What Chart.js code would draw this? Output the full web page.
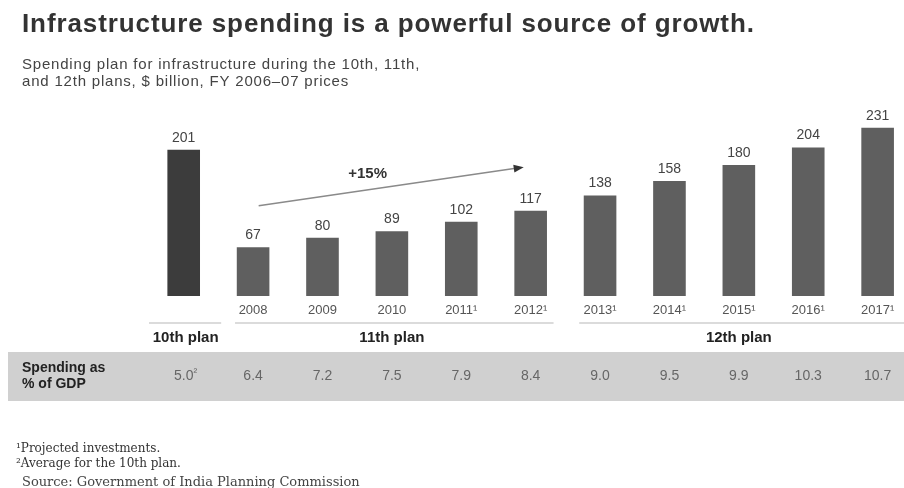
<!DOCTYPE html>
<html>
<head>
<meta charset="utf-8">
<script src="https://cdn.jsdelivr.net/npm/chart.js@4/dist/chart.umd.min.js"></script>
<style>
html,body{margin:0;padding:0;background:#fff;}
canvas{display:block;}
</style>
</head>
<body>
<canvas id="c" width="904" height="488"></canvas>
<script>
// ---- data ----
const yearLabels = ['', '2008', '2009', '2010', '2011¹', '2012¹', '2013¹', '2014¹', '2015¹', '2016¹', '2017¹'];
const spending = [201, 67, 80, 89, 102, 117, 138, 158, 180, 204, 231];
const gdpShare = [5.0, 6.4, 7.2, 7.5, 7.9, 8.4, 9.0, 9.5, 9.9, 10.3, 10.7];
const gdpNotes = ['²', '', '', '', '', '', '', '', '', '', ''];
const planNames = ['10th plan', '11th plan', '12th plan'];
const planFirst = [0, 1, 6];
const planLast = [0, 5, 10];
const growthLabel = '+15%';
const growthFrom = [1.08, 124];
const growthTo = [4.9, 177];

const titleText = 'Infrastructure spending is a powerful source of growth.';
const subtitleLines = ['Spending plan for infrastructure during the 10th, 11th,', 'and 12th plans, $ billion, FY 2006–07 prices'];
const rowLabel = ['Spending as', '% of GDP'];
const footnotes = ['¹Projected investments.', '²Average for the 10th plan.'];
const sourceText = 'Source: Government of India Planning Commission';

const SANS = '"Liberation Sans", Arial, Helvetica, sans-serif';
const SERIF = '"DejaVu Serif", "Liberation Serif", serif';

const points = spending.map((v, i) => ({x: i, y: v}));

const decor = {
  id: 'decor',
  afterDatasetsDraw(chart) {
    const ctx = chart.ctx;
    const xs = chart.scales.x, ys = chart.scales.y;
    const meta = chart.getDatasetMeta(0);
    ctx.save();
    // value labels
    ctx.font = '14px ' + SANS;
    ctx.fillStyle = '#444';
    ctx.textAlign = 'center';
    ctx.textBaseline = 'middle';
    meta.data.forEach((bar, i) => {
      ctx.fillText(String(spending[i]), bar.x, bar.y - 12);
    });
    // year labels
    ctx.font = '13px ' + SANS;
    ctx.fillStyle = '#555';
    const base = ys.getPixelForValue(0);
    yearLabels.forEach((t, i) => {
      if (t) ctx.fillText(t, xs.getPixelForValue(i), base + 14);
    });
    // plan underlines & labels
    const padL = [0.5, 0.26, 0.3];
    const padR = [0.54, 0.33, 0.4];
    ctx.strokeStyle = '#cfcfcf';
    ctx.lineWidth = 1.5;
    planNames.forEach((n, k) => {
      const x1 = xs.getPixelForValue(planFirst[k] - padL[k]);
      const x2 = xs.getPixelForValue(planLast[k] + padR[k]);
      ctx.beginPath();
      ctx.moveTo(x1, base + 27);
      ctx.lineTo(x2, base + 27);
      ctx.stroke();
    });
    ctx.font = 'bold 15px ' + SANS;
    ctx.fillStyle = '#222';
    planNames.forEach((n, k) => {
      const cx = (xs.getPixelForValue(planFirst[k]) + xs.getPixelForValue(planLast[k])) / 2 + (k === 0 ? 2 : 0);
      ctx.fillText(n, cx, base + 42);
    });
    // band
    const bandTop = base + 56, bandH = 49;
    ctx.fillStyle = '#d0d0d0';
    ctx.fillRect(8, bandTop, 896, bandH);
    ctx.textAlign = 'left';
    ctx.font = 'bold 14px ' + SANS;
    ctx.fillStyle = '#222';
    ctx.fillText(rowLabel[0], 22, bandTop + 16);
    ctx.fillText(rowLabel[1], 22, bandTop + 32);
    ctx.font = '14px ' + SANS;
    ctx.fillStyle = '#666';
    gdpShare.forEach((v, i) => {
      const cx = xs.getPixelForValue(i);
      const s = v.toFixed(1);
      ctx.textAlign = 'center';
      ctx.fillText(s, cx, bandTop + 24);
      if (gdpNotes[i]) {
        const w = ctx.measureText(s).width;
        ctx.textAlign = 'left';
        ctx.font = '11px ' + SANS;
        ctx.fillText(gdpNotes[i], cx + w / 2, bandTop + 21);
        ctx.font = '14px ' + SANS;
      }
    });
    // growth arrow
    const ax1 = xs.getPixelForValue(growthFrom[0]), ay1 = ys.getPixelForValue(growthFrom[1]);
    const ax2 = xs.getPixelForValue(growthTo[0]), ay2 = ys.getPixelForValue(growthTo[1]);
    const ang = Math.atan2(ay2 - ay1, ax2 - ax1);
    ctx.strokeStyle = '#8a8a8a';
    ctx.lineWidth = 1.5;
    ctx.beginPath();
    ctx.moveTo(ax1, ay1);
    ctx.lineTo(ax2 - 8 * Math.cos(ang), ay2 - 8 * Math.sin(ang));
    ctx.stroke();
    ctx.fillStyle = '#333';
    ctx.beginPath();
    ctx.moveTo(ax2, ay2);
    ctx.lineTo(ax2 - 10 * Math.cos(ang) + 4 * Math.sin(ang), ay2 - 10 * Math.sin(ang) - 4 * Math.cos(ang));
    ctx.lineTo(ax2 - 10 * Math.cos(ang) - 4 * Math.sin(ang), ay2 - 10 * Math.sin(ang) + 4 * Math.cos(ang));
    ctx.closePath();
    ctx.fill();
    ctx.font = 'bold 15px ' + SANS;
    ctx.textAlign = 'center';
    ctx.fillStyle = '#333';
    const gx = xs.getPixelForValue(2.65), gy = ys.getPixelForValue(168);
    ctx.fillText(growthLabel, gx, gy);
    // title & subtitle
    ctx.textAlign = 'left';
    ctx.textBaseline = 'alphabetic';
    ctx.font = 'bold 26px ' + SANS;
    ctx.fillStyle = '#333';
    ctx.letterSpacing = '0.9px';
    ctx.fillText(titleText, 22, 32, 736);
    ctx.font = '15px ' + SANS;
    ctx.fillStyle = '#444';
    ctx.letterSpacing = '0.8px';
    ctx.fillText(subtitleLines[0], 22, 69, 404);
    ctx.fillText(subtitleLines[1], 22, 86);
    ctx.letterSpacing = '0px';
    // footnotes
    ctx.font = '12px ' + SERIF;
    ctx.fillStyle = '#333';
    ctx.fillText(footnotes[0], 16, 452, 157);
    ctx.fillText(footnotes[1], 16, 467, 182);
    ctx.font = '13px ' + SERIF;
    ctx.fillStyle = '#444';
    ctx.fillText(sourceText, 22, 486, 362);
    ctx.restore();
  }
};

new Chart(document.getElementById('c'), {
  type: 'bar',
  data: {
    datasets: [{
      data: points,
      backgroundColor: spending.map((v, i) => i === 0 ? '#3c3c3c' : '#5f5f5f'),
      barPercentage: 0.47,
      categoryPercentage: 1.0,
      borderWidth: 0
    }]
  },
  options: {
    responsive: false,
    devicePixelRatio: 1,
    animation: false,
    layout: {padding: {left: 149, right: 0, top: 114, bottom: 192}},
    plugins: {legend: {display: false}, tooltip: {enabled: false}, title: {display: false}},
    scales: {
      x: {type: 'linear', display: false, offset: false, min: -0.5, max: 10.38},
      y: {display: false, min: 0, max: 250}
    }
  },
  plugins: [decor]
});
</script>
</body>
</html>
